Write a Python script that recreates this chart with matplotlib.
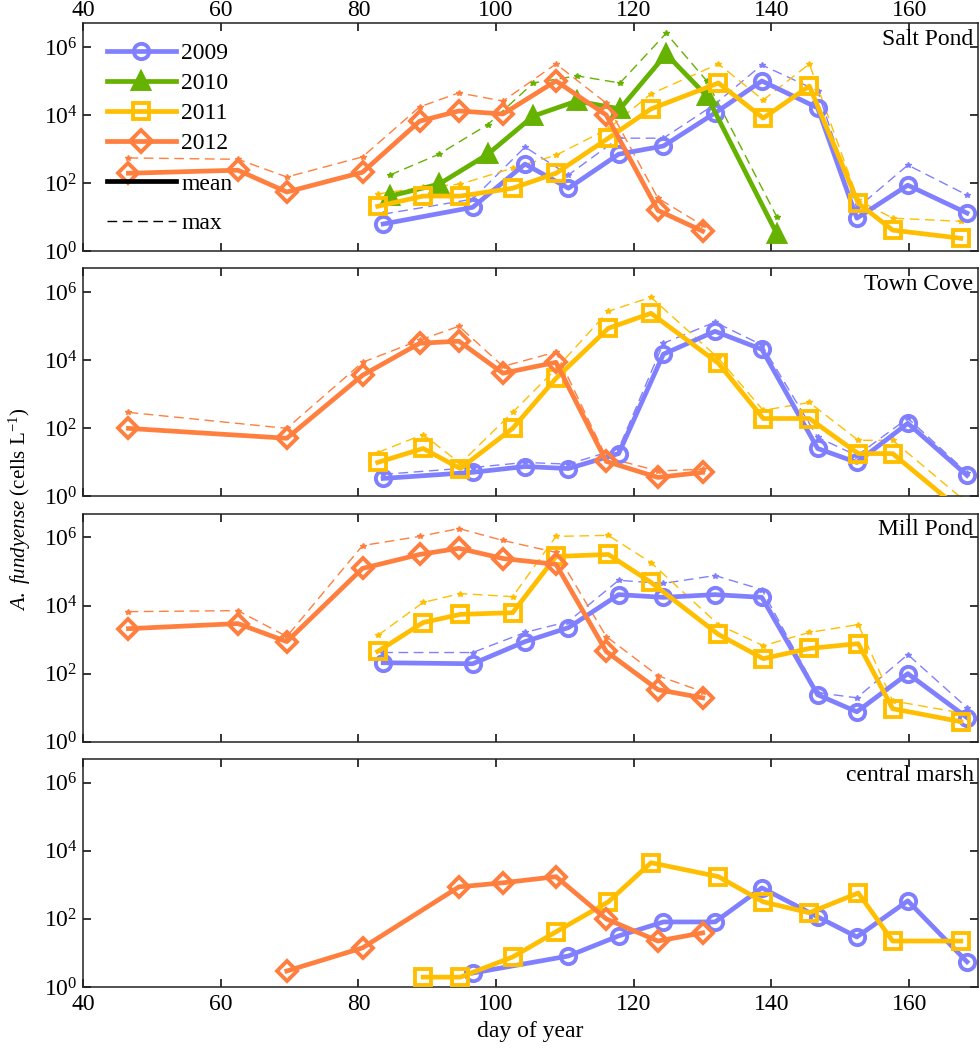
import numpy as np
import matplotlib
matplotlib.use("Agg")
import matplotlib.pyplot as plt
from matplotlib.lines import Line2D
from matplotlib.ticker import FixedLocator, LogFormatterMathtext, NullLocator

plt.rcParams['font.family'] = ['Liberation Serif', 'DejaVu Serif']
plt.rcParams['mathtext.fontset'] = 'custom'
plt.rcParams['mathtext.rm'] = 'Liberation Serif'
plt.rcParams['mathtext.it'] = 'Liberation Serif:italic'

nan = np.nan

# sampling days for each year
days_2009 = [83.6, 96.6, 104.2, 110.5, 117.8, 124.3, 131.8, 138.6, 146.7, 152.4, 159.8, 168.4]
days_2010 = [84.6, 91.7, 98.8, 105.4, 111.7, 118.0, 124.7, 130.6, 140.8]
days_2011 = [82.8, 89.4, 94.8, 102.4, 108.7, 116.3, 122.5, 132.3, 138.8, 145.5, 152.6, 157.6, 167.5]
days_2012 = [46.6, 62.5, 69.6, 80.6, 88.9, 94.6, 101.0, 108.7, 116.0, 123.5, 130.0]

sites = ['Salt Pond', 'Town Cove', 'Mill Pond', 'central marsh']
years = ['2009', '2010', '2011', '2012']

# log10 of cell counts (cells per litre), mean and max, per site
salt_mean = {
    '2009': [0.80, 1.29, 2.56, 1.85, 2.85, 3.09, 4.06, 5.00, 4.21, 0.97, 1.94, 1.12],
    '2010': [1.62, 1.97, 2.85, 3.97, 4.41, 4.18, 5.79, 4.56, 0.50],
    '2011': [1.32, 1.62, 1.62, 1.85, 2.29, 3.32, 4.18, 4.94, 3.91, 4.85, 1.41, 0.62, 0.38],
    '2012': [2.29, 2.38, 1.74, 2.32, 3.82, 4.12, 4.03, 5.00, 4.00, 1.20, 0.59],
}
salt_max = {
    '2009': [1.09, 1.53, 3.06, 2.24, 3.32, 3.32, 4.32, 5.47, 4.71, 1.26, 2.53, 1.65],
    '2010': [2.24, 2.85, 3.72, 4.94, 5.15, 4.94, 6.40, 5.00, 1.00],
    '2011': [1.68, 1.88, 1.97, 2.44, 2.82, 3.60, 4.62, 5.50, 4.44, 5.50, 1.50, 0.97, 0.88],
    '2012': [2.74, 2.70, 2.18, 2.77, 4.24, 4.65, 4.41, 5.50, 4.35, 1.56, 0.76],
}

town_mean = {
    '2009': [0.53, 0.71, 0.88, 0.82, 1.26, 4.18, 4.85, 4.32, 1.41, 1.00, 2.15, 0.62],
    '2011': [1.00, 1.41, 0.82, 2.00, 3.47, 4.94, 5.38, 3.91, 2.29, 2.29, 1.26, 1.26, -0.40],
    '2012': [2.00, nan, 1.71, 3.56, 4.50, 4.56, 3.62, 3.94, 1.03, 0.56, 0.71],
}
town_max = {
    '2009': [0.65, 0.85, 1.00, 0.95, 1.40, 4.50, 5.12, 4.45, 1.74, 1.20, 2.30, 0.70],
    '2011': [1.29, 1.82, 0.97, 2.47, 3.75, 5.44, 5.85, 4.06, 2.53, 2.76, 1.65, 1.65, -0.03],
    '2012': [2.47, nan, 2.00, 3.94, 4.59, 5.00, 3.82, 4.24, 1.15, 0.75, 0.80],
}

mill_mean = {
    '2009': [2.32, 2.29, 2.94, 3.35, 4.32, 4.24, 4.32, 4.24, 1.38, 0.88, 2.00, 0.71],
    '2011': [2.65, 3.50, 3.74, 3.79, 5.44, 5.50, 4.68, 3.15, 2.44, 2.74, 2.88, 0.97, 0.59],
    '2012': [3.32, 3.47, 2.94, 5.09, 5.50, 5.68, 5.38, 5.21, 2.65, 1.53, 1.29],
}
mill_max = {
    '2009': [2.62, 2.62, 3.21, 3.53, 4.74, 4.65, 4.88, 4.47, 1.44, 1.29, 2.56, 1.00],
    '2011': [3.12, 4.09, 4.35, 4.26, 6.03, 6.06, 5.26, 3.44, 2.82, 3.21, 3.44, 1.20, 0.85],
    '2012': [3.82, 3.85, 3.09, 5.76, 6.03, 6.26, 5.91, 5.56, 3.09, 1.94, 1.47],
}

marsh_mean = {
    '2009': [nan, 0.41, nan, 0.91, 1.50, 1.91, 1.91, 2.91, 2.06, 1.47, 2.53, 0.74],
    '2011': [nan, 0.29, 0.29, 0.88, 1.62, 2.50, 3.65, 3.24, 2.50, 2.18, 2.76, 1.35, 1.35],
    '2012': [nan, nan, 0.47, 1.15, nan, 2.94, 3.06, 3.24, 2.00, 1.35, 1.59],
}

site_mean = [salt_mean, town_mean, mill_mean, marsh_mean]
site_max = [salt_max, town_max, mill_max, None]

days = {'2009': days_2009, '2010': days_2010, '2011': days_2011, '2012': days_2012}
colors = {'2009': '#8080FF', '2010': '#66B200', '2011': '#FFBF00', '2012': '#FF7F3F'}
markers = {'2009': 'o', '2010': '^', '2011': 's', '2012': 'D'}

FS = 17


def draw_year(ax, year, mean_vals, max_vals):
    x = np.array(days[year])
    c = colors[year]
    if max_vals is not None:
        ymax = 10.0 ** np.array(max_vals)
        ok = ~np.isnan(ymax)
        ax.plot(x[ok], ymax[ok], '--', color=c, lw=1.0, marker='*', ms=4,
                dashes=(7, 4), zorder=2)
    ymean = 10.0 ** np.array(mean_vals)
    ok = ~np.isnan(ymean)
    face = c if year == '2010' else 'none'
    ms = 11 if year != '2012' else 10
    ax.plot(x[ok], ymean[ok], '-', color=c, lw=3.4, marker=markers[year], ms=ms,
            mfc=face, mec=c, mew=2.8, zorder=3)


fig, axes = plt.subplots(4, 1, figsize=(9.8, 10.5), dpi=100)
fig.subplots_adjust(left=0.0847, right=0.998, top=0.978, bottom=0.06, hspace=0.075)

for i, ax in enumerate(axes):
    for year in years:
        if year in site_mean[i]:
            mx = site_max[i][year] if site_max[i] is not None else None
            draw_year(ax, year, site_mean[i][year], mx)
    ax.set_yscale('log')
    ax.set_ylim(1, 5e6)
    ax.set_xlim(40, 170)
    ax.yaxis.set_major_locator(FixedLocator([1, 1e2, 1e4, 1e6]))
    ax.yaxis.set_major_formatter(LogFormatterMathtext(base=10.0))
    ax.yaxis.set_minor_locator(NullLocator())
    ax.set_xticks([40, 60, 80, 100, 120, 140, 160])
    ax.tick_params(direction='in', length=6, width=1.1, top=True, right=True,
                   labelsize=FS, pad=4)
    ax.tick_params(axis='x', labelbottom=(i == 3), labeltop=(i == 0),
                   pad=(1.5 if i == 0 else 5))
    for s in ax.spines.values():
        s.set_linewidth(1.1)
        s.set_color('#222222')
    ax.text(0.995, 0.975, sites[i], transform=ax.transAxes, ha='right', va='top',
            fontsize=FS)

axes[3].set_xlabel('day of year', fontsize=FS, labelpad=4)
fig.text(0.02, 0.515, r'$\it{A.\ fundyense}$ (cells L$^{-1}$)', rotation=90,
         ha='center', va='center', fontsize=15)

handles = [Line2D([], [], color=colors[y], lw=3.4, marker=markers[y], ms=11,
                  mfc=(colors[y] if y == '2010' else 'none'), mec=colors[y], mew=2.8)
           for y in years]
leg1 = axes[0].legend(handles, years, loc='center left', frameon=False, fontsize=FS,
                      handlelength=2.9, labelspacing=0.36, borderaxespad=0.62,
                      handletextpad=0.25, bbox_to_anchor=(0.0, 0.67))
axes[0].add_artist(leg1)

style_handles = [Line2D([], [], color='black', lw=3.4),
                 Line2D([], [], color='black', lw=1.0, ls='--', dashes=(7, 4))]
axes[0].legend(style_handles, ['mean', 'max'], loc='center left', frameon=False,
               fontsize=FS, handlelength=2.9, labelspacing=0.75, borderaxespad=0.62,
               handletextpad=0.25, bbox_to_anchor=(0.0, 0.209))

fig.savefig('out.png', dpi=100)
